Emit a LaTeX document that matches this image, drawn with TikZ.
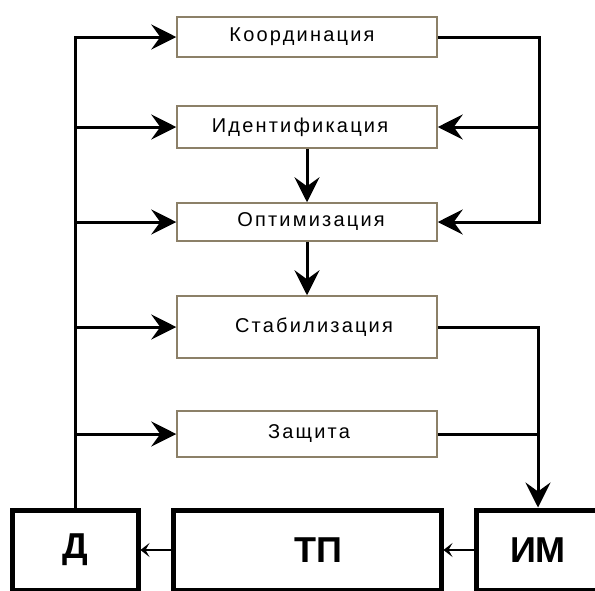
\documentclass[tikz,border=0pt]{standalone}
\usepackage{fontspec}
\setmainfont{Liberation Sans}
\newfontfamily\funcfont[LetterSpace=11]{Liberation Sans}
\usetikzlibrary{arrows.meta}
\definecolor{boxedge}{RGB}{140,128,104}
% shift a label sideways inside its box by half the given length
\newcommand\nudge[2]{\hspace*{#1}#2}

\begin{document}
\begin{tikzpicture}[x=1pt,y=-1pt,
  func/.style={draw=boxedge, line width=1.5pt, fill=white, minimum width=260pt,
    inner sep=0pt, font=\funcfont\fontsize{20}{24}\selectfont},
  plant/.style={draw=black, line width=5pt, minimum height=80pt, inner sep=0pt,
    font=\bfseries\fontsize{36}{40}\selectfont},
  wire/.style={line width=3pt},
  link/.style={wire, -{Stealth[length=25pt,width=25pt,inset=9pt]}},
  thinlink/.style={line width=2pt, -{Stealth[length=9pt,width=14pt,inset=4pt]}}
]
\clip (0,0) rectangle (595,590);
\fill[white] (0,0) rectangle (595,590);

% control functions
\node[func, minimum height=40pt] (koord) at (307,37)  {\nudge{-10pt}{Координация}};
\node[func, minimum height=42pt] (ident) at (307,127) {\nudge{-14pt}{Идентификация}};
\node[func, minimum height=38pt] (optim) at (307,222) {\nudge{8pt}{Оптимизация}};
\node[func, minimum height=62pt] (stab)  at (307,327) {\nudge{14pt}{Стабилизация}};
\node[func, minimum height=46pt] (zash)  at (307,434) {\nudge{4pt}{Защита}};

% plant: sensor, process, actuator
\node[plant, minimum width=126pt] (d)  at (75,550)  {Д};
\node[plant, minimum width=268pt] (tp) at (307,550) {\nudge{22pt}{ТП}};
\node[plant, minimum width=124pt] (im) at (538,550) {ИМ};

% sensor bus on the left
\draw[link] (d.north) |- (koord.west);
\draw[link] (d.north |- ident.west) -- (ident.west);
\draw[link] (d.north |- optim.west) -- (optim.west);
\draw[link] (d.north |- stab.west)  -- (stab.west);
\draw[link] (d.north |- zash.west)  -- (zash.west);

% coordination feedback on the right
\coordinate (rbus) at (539,37);
\draw[link] (koord.east) -- (rbus) |- (optim.east);
\draw[link] (rbus |- ident.east) -- (ident.east);

% chain down the middle
\draw[link] (ident.south) -- (optim.north);
\draw[link] (optim.south) -- (stab.north);

% commands to the actuator
\draw[link] (stab.east) -| (im.north);
\draw[wire] (zash.east) -- (zash.east -| im.north);

% plant signal flow
\draw[thinlink] (tp.west) -- (d.east);
\draw[thinlink] (im.west) -- (tp.east);
\end{tikzpicture}
\end{document}
